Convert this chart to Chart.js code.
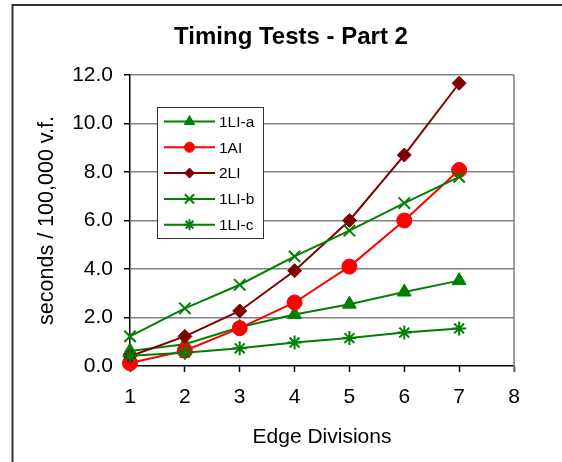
<!DOCTYPE html>
<html>
<head>
<meta charset="utf-8">
<script src="https://cdn.jsdelivr.net/npm/chart.js@4/dist/chart.umd.min.js"></script>
<style>
  html, body { margin: 0; padding: 0; background: #fff; }
  canvas { display: block; }
</style>
</head>
<body>
<canvas id="c" width="562" height="462"></canvas>
<script>
// Edge divisions tested
const edgeDivisions = [1, 2, 3, 4, 5, 6, 7];

// Seconds per 100,000 v.f. for each method
const s1LIa = [0.62, 0.90, 1.60, 2.12, 2.55, 3.05, 3.52];
const s1AI  = [0.12, 0.63, 1.56, 2.62, 4.10, 6.00, 8.08];
const s2LI  = [0.40, 1.22, 2.27, 3.93, 6.00, 8.70, 11.66];
const s1LIb = [1.22, 2.38, 3.35, 4.52, 5.58, 6.72, 7.80];
const s1LIc = [0.42, 0.55, 0.73, 0.97, 1.15, 1.38, 1.55];

const seriesNames = ['1LI-a', '1AI', '2LI', '1LI-b', '1LI-c'];
const chartTitle = 'Timing Tests - Part 2';
const xTitle = 'Edge Divisions';
const yTitle = 'seconds / 100,000 v.f.';

const FONT = "'Liberation Sans', Arial, sans-serif";
Chart.defaults.font.family = FONT;
Chart.defaults.color = '#000';

const pts = vals => edgeDivisions.map((x, i) => ({ x: x, y: vals[i] }));

const styles = [
  { color: '#008000', pointStyle: 'triangle', r: 8,   lr: 6,   bw: 1 },
  { color: '#FF0000', pointStyle: 'circle',   r: 7.5, lr: 5,   bw: 1 },
  { color: '#800000', pointStyle: 'rectRot',  r: 7,   lr: 5,   bw: 1 },
  { color: '#008000', pointStyle: 'crossRot', r: 8,   lr: 6.5, bw: 2 },
  { color: '#008000', pointStyle: 'star',     r: 7,   lr: 5.5, bw: 2 }
];
const values = [s1LIa, s1AI, s2LI, s1LIb, s1LIc];

const datasets = seriesNames.map((name, i) => ({
  label: name,
  data: pts(values[i]),
  borderColor: styles[i].color,
  backgroundColor: styles[i].color,
  borderWidth: 2,
  pointStyle: styles[i].pointStyle,
  pointRadius: styles[i].r,
  pointHoverRadius: styles[i].r,
  pointBorderWidth: styles[i].bw,
  pointBackgroundColor: styles[i].color,
  pointBorderColor: styles[i].color,
  legendRadius: styles[i].lr,
  tension: 0,
  fill: false,
  clip: false,
  order: seriesNames.length - i
}));

// Page background, outer frame, title and plot-area edges
const framePlugin = {
  id: 'frame',
  beforeDraw(chart) {
    const ctx = chart.ctx;
    ctx.save();
    ctx.fillStyle = '#fff';
    ctx.fillRect(0, 0, chart.width, chart.height);
    ctx.strokeStyle = '#333';
    ctx.lineWidth = 2;
    ctx.beginPath();
    ctx.moveTo(12.5, chart.height);
    ctx.lineTo(12.5, 5);
    ctx.lineTo(chart.width, 5);
    ctx.stroke();
    ctx.fillStyle = '#000';
    ctx.font = 'bold 24px ' + FONT;
    ctx.textAlign = 'center';
    ctx.textBaseline = 'alphabetic';
    ctx.fillText(chartTitle, 291, 44);
    ctx.restore();
  },
  beforeDatasetsDraw(chart) {
    const a = chart.chartArea;
    const ctx = chart.ctx;
    ctx.save();
    ctx.strokeStyle = '#808080';
    ctx.lineWidth = 1.5;
    ctx.beginPath();
    ctx.moveTo(a.right, a.top);
    ctx.lineTo(a.right, a.bottom + 6);
    ctx.stroke();
    ctx.restore();
  }
};

// Boxed legend placed inside the plot area
const boxLegend = {
  id: 'boxLegend',
  afterDatasetsDraw(chart) {
    const ctx = chart.ctx;
    const bx = 157.5, by = 107.5, bw = 106, bh = 131;
    ctx.save();
    ctx.fillStyle = '#fff';
    ctx.strokeStyle = '#333';
    ctx.lineWidth = 1;
    ctx.fillRect(bx, by, bw, bh);
    ctx.strokeRect(bx, by, bw, bh);
    chart.data.datasets.forEach((ds, i) => {
      const y = by + 14 + i * 25.8;
      ctx.strokeStyle = ds.borderColor;
      ctx.fillStyle = ds.borderColor;
      ctx.lineWidth = 2;
      ctx.beginPath();
      ctx.moveTo(164, y);
      ctx.lineTo(215, y);
      ctx.stroke();
      ctx.lineWidth = ds.pointBorderWidth;
      Chart.helpers.drawPoint(ctx, {
        pointStyle: ds.pointStyle,
        radius: ds.legendRadius,
        rotation: 0,
        borderWidth: ds.pointBorderWidth
      }, 189.5, y);
      ctx.fillStyle = '#000';
      ctx.font = '15.5px ' + FONT;
      ctx.textAlign = 'left';
      ctx.textBaseline = 'middle';
      ctx.fillText(ds.label, 219, y + 1);
    });
    ctx.restore();
  }
};

new Chart(document.getElementById('c'), {
  type: 'line',
  data: { datasets: datasets },
  plugins: [framePlugin, boxLegend],
  options: {
    responsive: false,
    animation: false,
    devicePixelRatio: 1,
    layout: { padding: { left: 0, right: 48, top: 75, bottom: 0 } },
    plugins: {
      legend: { display: false },
      title: { display: false },
      tooltip: { enabled: false }
    },
    scales: {
      x: {
        type: 'linear',
        position: 'bottom',
        min: 1,
        max: 8,
        afterFit(scale) { scale.height = 96; },
        ticks: {
          stepSize: 1,
          font: { size: 21 },
          color: '#000',
          padding: 12.5,
          callback: v => String(v)
        },
        grid: {
          drawOnChartArea: false,
          drawTicks: true,
          tickLength: 6,
          tickColor: '#000',
          tickWidth: 1.5
        },
        border: { display: true, color: '#000', width: 1.5 },
        title: {
          display: true,
          text: xTitle,
          font: { size: 21 },
          color: '#000',
          padding: { top: 0, bottom: 12 }
        }
      },
      y: {
        type: 'linear',
        min: 0,
        max: 12,
        afterFit(scale) { scale.width = 130; },
        ticks: {
          stepSize: 2,
          font: { size: 21 },
          color: '#000',
          padding: 11,
          callback: v => Number(v).toFixed(1)
        },
        grid: {
          color: ctx => (ctx.tick && ctx.tick.value === 0) ? 'rgba(0,0,0,0)' : '#808080',
          lineWidth: 1.5,
          drawTicks: true,
          tickLength: 6,
          tickColor: '#000',
          tickWidth: 1.5
        },
        border: { display: true, color: '#000', width: 1.5 },
        title: {
          display: true,
          text: yTitle,
          font: { size: 21.5 },
          color: '#000',
          padding: { top: 34, bottom: 0 }
        }
      }
    }
  }
});
</script>
</body>
</html>
